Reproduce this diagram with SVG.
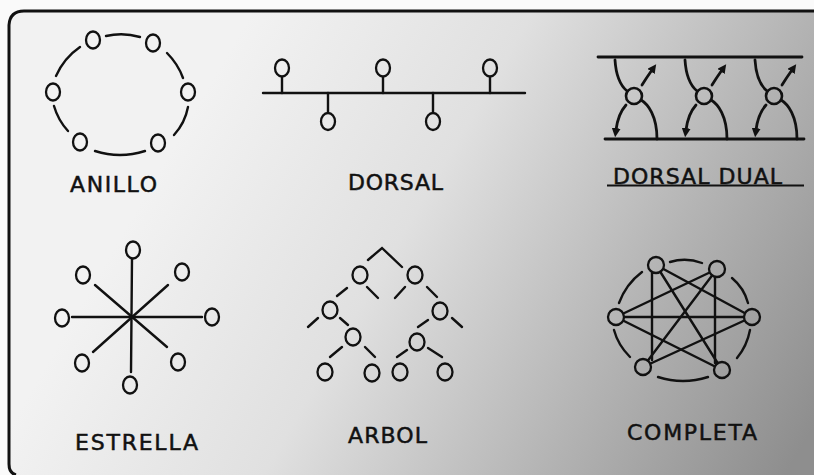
<svg xmlns="http://www.w3.org/2000/svg" width="814" height="475" viewBox="0 0 814 475">
<defs>
<linearGradient id="bg" gradientUnits="userSpaceOnUse" x1="200" y1="100" x2="800" y2="450">
<stop offset="0" stop-color="#f2f2f2"/>
<stop offset="0.35" stop-color="#e0e0e0"/>
<stop offset="0.7" stop-color="#b3b3b3"/>
<stop offset="1" stop-color="#8e8e8e"/>
</linearGradient>
<marker id="ah" viewBox="0 0 10 10" refX="2" refY="5" markerWidth="9" markerHeight="9" markerUnits="userSpaceOnUse" orient="auto">
<path d="M0,0 L10,5 L0,10 z" fill="#111"/>
</marker>
</defs>
<style>
.n{fill:url(#bg);stroke:#111;stroke-width:2.3}
.c{fill:none;stroke:#111;stroke-width:2.6}
.l{fill:none;stroke:#111;stroke-width:2.4;stroke-linecap:round}
.t{fill:none;stroke:#111;stroke-width:2.8;stroke-linecap:round}
.lbl{font-family:"DejaVu Sans","Liberation Sans",sans-serif;font-size:22px;fill:#111;stroke:#111;stroke-width:0.5;text-anchor:middle}
</style>
<rect width="814" height="475" fill="#fafafa"/>
<path d="M814,11 H24 Q10,11 9,25 V464 Q9,473 16,475 H814 Z" fill="url(#bg)"/>
<path d="M814,11 H24 Q10,11 9,25 V464 Q9,473 16,475" fill="none" stroke="#111" stroke-width="3"/>

<g id="connectors">
<!-- ANILLO ring -->
<path class="l" d="M106,36 Q123,32 140,37"/>
<path class="l" d="M80,47 Q64,58 56,76"/>
<path class="l" d="M167,53 Q178,64 183,78"/>
<path class="l" d="M54,106 Q58,120 68,131"/>
<path class="l" d="M188,107 Q185,123 174,135"/>
<path class="l" d="M95,151 Q120,159 145,151"/>
<!-- DORSAL -->
<line class="l" x1="263" y1="93" x2="525" y2="93"/>
<line class="l" x1="282" y1="77" x2="282" y2="93"/>
<line class="l" x1="383" y1="77" x2="383" y2="93"/>
<line class="l" x1="490" y1="77" x2="490" y2="93"/>
<line class="l" x1="328" y1="93" x2="328" y2="112"/>
<line class="l" x1="433" y1="93" x2="433" y2="112"/>
<!-- ESTRELLA -->
<line class="l" x1="132" y1="258" x2="131" y2="372"/>
<line class="l" x1="72" y1="317" x2="202" y2="317"/>
<line class="l" x1="95" y1="285" x2="167" y2="347"/>
<line class="l" x1="168" y1="285" x2="93" y2="352"/>
<!-- ARBOL -->
<path class="l" d="M368,260 L382,248 L402,267"/>
<line class="l" x1="347" y1="288" x2="337" y2="296"/>
<line class="l" x1="367" y1="287" x2="378" y2="298"/>
<line class="l" x1="405" y1="287" x2="395" y2="298"/>
<line class="l" x1="427" y1="287" x2="437" y2="297"/>
<line class="l" x1="318" y1="318" x2="308" y2="327"/>
<line class="l" x1="340" y1="318" x2="348" y2="325"/>
<line class="l" x1="428" y1="320" x2="418" y2="327"/>
<line class="l" x1="452" y1="318" x2="462" y2="327"/>
<line class="l" x1="342" y1="347" x2="330" y2="357"/>
<line class="l" x1="365" y1="347" x2="375" y2="357"/>
<line class="l" x1="407" y1="350" x2="397" y2="357"/>
<line class="l" x1="428" y1="348" x2="442" y2="357"/>
<!-- COMPLETA ring -->
<path class="l" d="M670,262 Q686,257 702,263"/>
<path class="l" d="M732,278 Q744,288 748,303"/>
<path class="l" d="M750,330 Q747,346 737,358"/>
<path class="l" d="M658,377 Q683,385 708,377"/>
<path class="l" d="M630,357 Q618,345 614,330"/>
<path class="l" d="M619,303 Q626,284 642,272"/>
<!-- COMPLETA chords -->
<line class="l" x1="652" y1="272" x2="652" y2="360"/>
<line class="l" x1="715" y1="276" x2="715" y2="363"/>
<line class="l" x1="616" y1="317" x2="752" y2="317"/>
<line class="l" x1="656" y1="265" x2="722" y2="370"/>
<line class="l" x1="656" y1="265" x2="752" y2="317"/>
<line class="l" x1="717" y1="269" x2="616" y2="317"/>
<line class="l" x1="717" y1="269" x2="643" y2="367"/>
<line class="l" x1="616" y1="317" x2="722" y2="370"/>
<line class="l" x1="752" y1="317" x2="643" y2="367"/>
<!-- DORSAL DUAL buses -->
<line class="t" x1="598" y1="57" x2="802" y2="57"/>
<line class="t" x1="605" y1="139" x2="804" y2="139"/>
</g>

<g id="anillo">
<ellipse class="n" cx="93" cy="40" rx="7" ry="8.5"/>
<ellipse class="n" cx="153" cy="43" rx="7" ry="8.5"/>
<ellipse class="n" cx="53" cy="92" rx="7" ry="8.5"/>
<ellipse class="n" cx="188" cy="92" rx="7" ry="8.5"/>
<ellipse class="n" cx="80" cy="142" rx="7" ry="8.5"/>
<ellipse class="n" cx="158" cy="143" rx="7" ry="8.5"/>
<text class="lbl" x="113.5" y="192" textLength="87" lengthAdjust="spacing">ANILLO</text>
</g>

<g id="dorsal">
<ellipse class="n" cx="282" cy="68" rx="7" ry="8.5"/>
<ellipse class="n" cx="383" cy="68" rx="7" ry="8.5"/>
<ellipse class="n" cx="490" cy="68" rx="7" ry="8.5"/>
<ellipse class="n" cx="328" cy="121.5" rx="7" ry="8.5"/>
<ellipse class="n" cx="433" cy="121.5" rx="7" ry="8.5"/>
<text class="lbl" x="395.5" y="190" textLength="95" lengthAdjust="spacing">DORSAL</text>
</g>

<g id="dorsal-dual">
<g transform="translate(634,96)">
<path class="t" d="M-19,-36 C-18,-20 -13,-10 -7,-5"/>
<path class="t" d="M7,4 C14,8 23,20 23,43"/>
<path class="t" d="M8,-11 Q13,-19 18,-26" marker-end="url(#ah)"/>
<path class="t" d="M-8,9 Q-16,18 -18,34" marker-end="url(#ah)"/>
<circle class="c" r="8"/>
</g>
<g transform="translate(704,96)">
<path class="t" d="M-19,-36 C-18,-20 -13,-10 -7,-5"/>
<path class="t" d="M7,4 C14,8 23,20 23,43"/>
<path class="t" d="M8,-11 Q13,-19 18,-26" marker-end="url(#ah)"/>
<path class="t" d="M-8,9 Q-16,18 -18,34" marker-end="url(#ah)"/>
<circle class="c" r="8"/>
</g>
<g transform="translate(774,96)">
<path class="t" d="M-19,-36 C-18,-20 -13,-10 -7,-5"/>
<path class="t" d="M7,4 C14,8 23,20 23,43"/>
<path class="t" d="M8,-11 Q13,-19 18,-26" marker-end="url(#ah)"/>
<path class="t" d="M-8,9 Q-16,18 -18,34" marker-end="url(#ah)"/>
<circle class="c" r="8"/>
</g>
<text class="lbl" x="697.5" y="184" textLength="169" lengthAdjust="spacing">DORSAL DUAL</text>
<line x1="607" y1="185.5" x2="804" y2="185.5" stroke="#111" stroke-width="2.2"/>
</g>

<g id="estrella">
<ellipse class="n" cx="133" cy="250" rx="7" ry="8.5"/>
<ellipse class="n" cx="130" cy="385" rx="7" ry="8.5"/>
<ellipse class="n" cx="62" cy="318" rx="7" ry="8.5"/>
<ellipse class="n" cx="212" cy="317" rx="7" ry="8.5"/>
<ellipse class="n" cx="83" cy="275" rx="7" ry="8.5"/>
<ellipse class="n" cx="182" cy="272" rx="7" ry="8.5"/>
<ellipse class="n" cx="82" cy="363" rx="7" ry="8.5"/>
<ellipse class="n" cx="178" cy="362" rx="7" ry="8.5"/>
<circle cx="131.5" cy="317" r="2" fill="#111"/>
<text class="lbl" x="136.5" y="450" textLength="123" lengthAdjust="spacing">ESTRELLA</text>
</g>

<g id="arbol">
<ellipse class="n" cx="360" cy="275" rx="7.5" ry="8.5"/>
<ellipse class="n" cx="415" cy="275" rx="7.5" ry="8.5"/>
<ellipse class="n" cx="330" cy="310" rx="7.5" ry="8.5"/>
<ellipse class="n" cx="440" cy="311" rx="7.5" ry="8.5"/>
<ellipse class="n" cx="353" cy="337" rx="7.5" ry="8.5"/>
<ellipse class="n" cx="417" cy="342" rx="7.5" ry="8.5"/>
<ellipse class="n" cx="325" cy="372" rx="7.5" ry="8.5"/>
<ellipse class="n" cx="372" cy="373" rx="7.5" ry="8.5"/>
<ellipse class="n" cx="400" cy="372" rx="7.5" ry="8.5"/>
<ellipse class="n" cx="445" cy="372" rx="7.5" ry="8.5"/>
<text class="lbl" x="387.5" y="443" textLength="79" lengthAdjust="spacing">ARBOL</text>
</g>

<g id="completa">
<circle class="n" cx="656" cy="265" r="8"/>
<circle class="n" cx="717" cy="269" r="8"/>
<circle class="n" cx="616" cy="317" r="8"/>
<circle class="n" cx="752" cy="317" r="8"/>
<circle class="n" cx="643" cy="367" r="8"/>
<circle class="n" cx="722" cy="370" r="8"/>
<text class="lbl" x="692" y="440" textLength="130" lengthAdjust="spacing">COMPLETA</text>
</g>
</svg>
